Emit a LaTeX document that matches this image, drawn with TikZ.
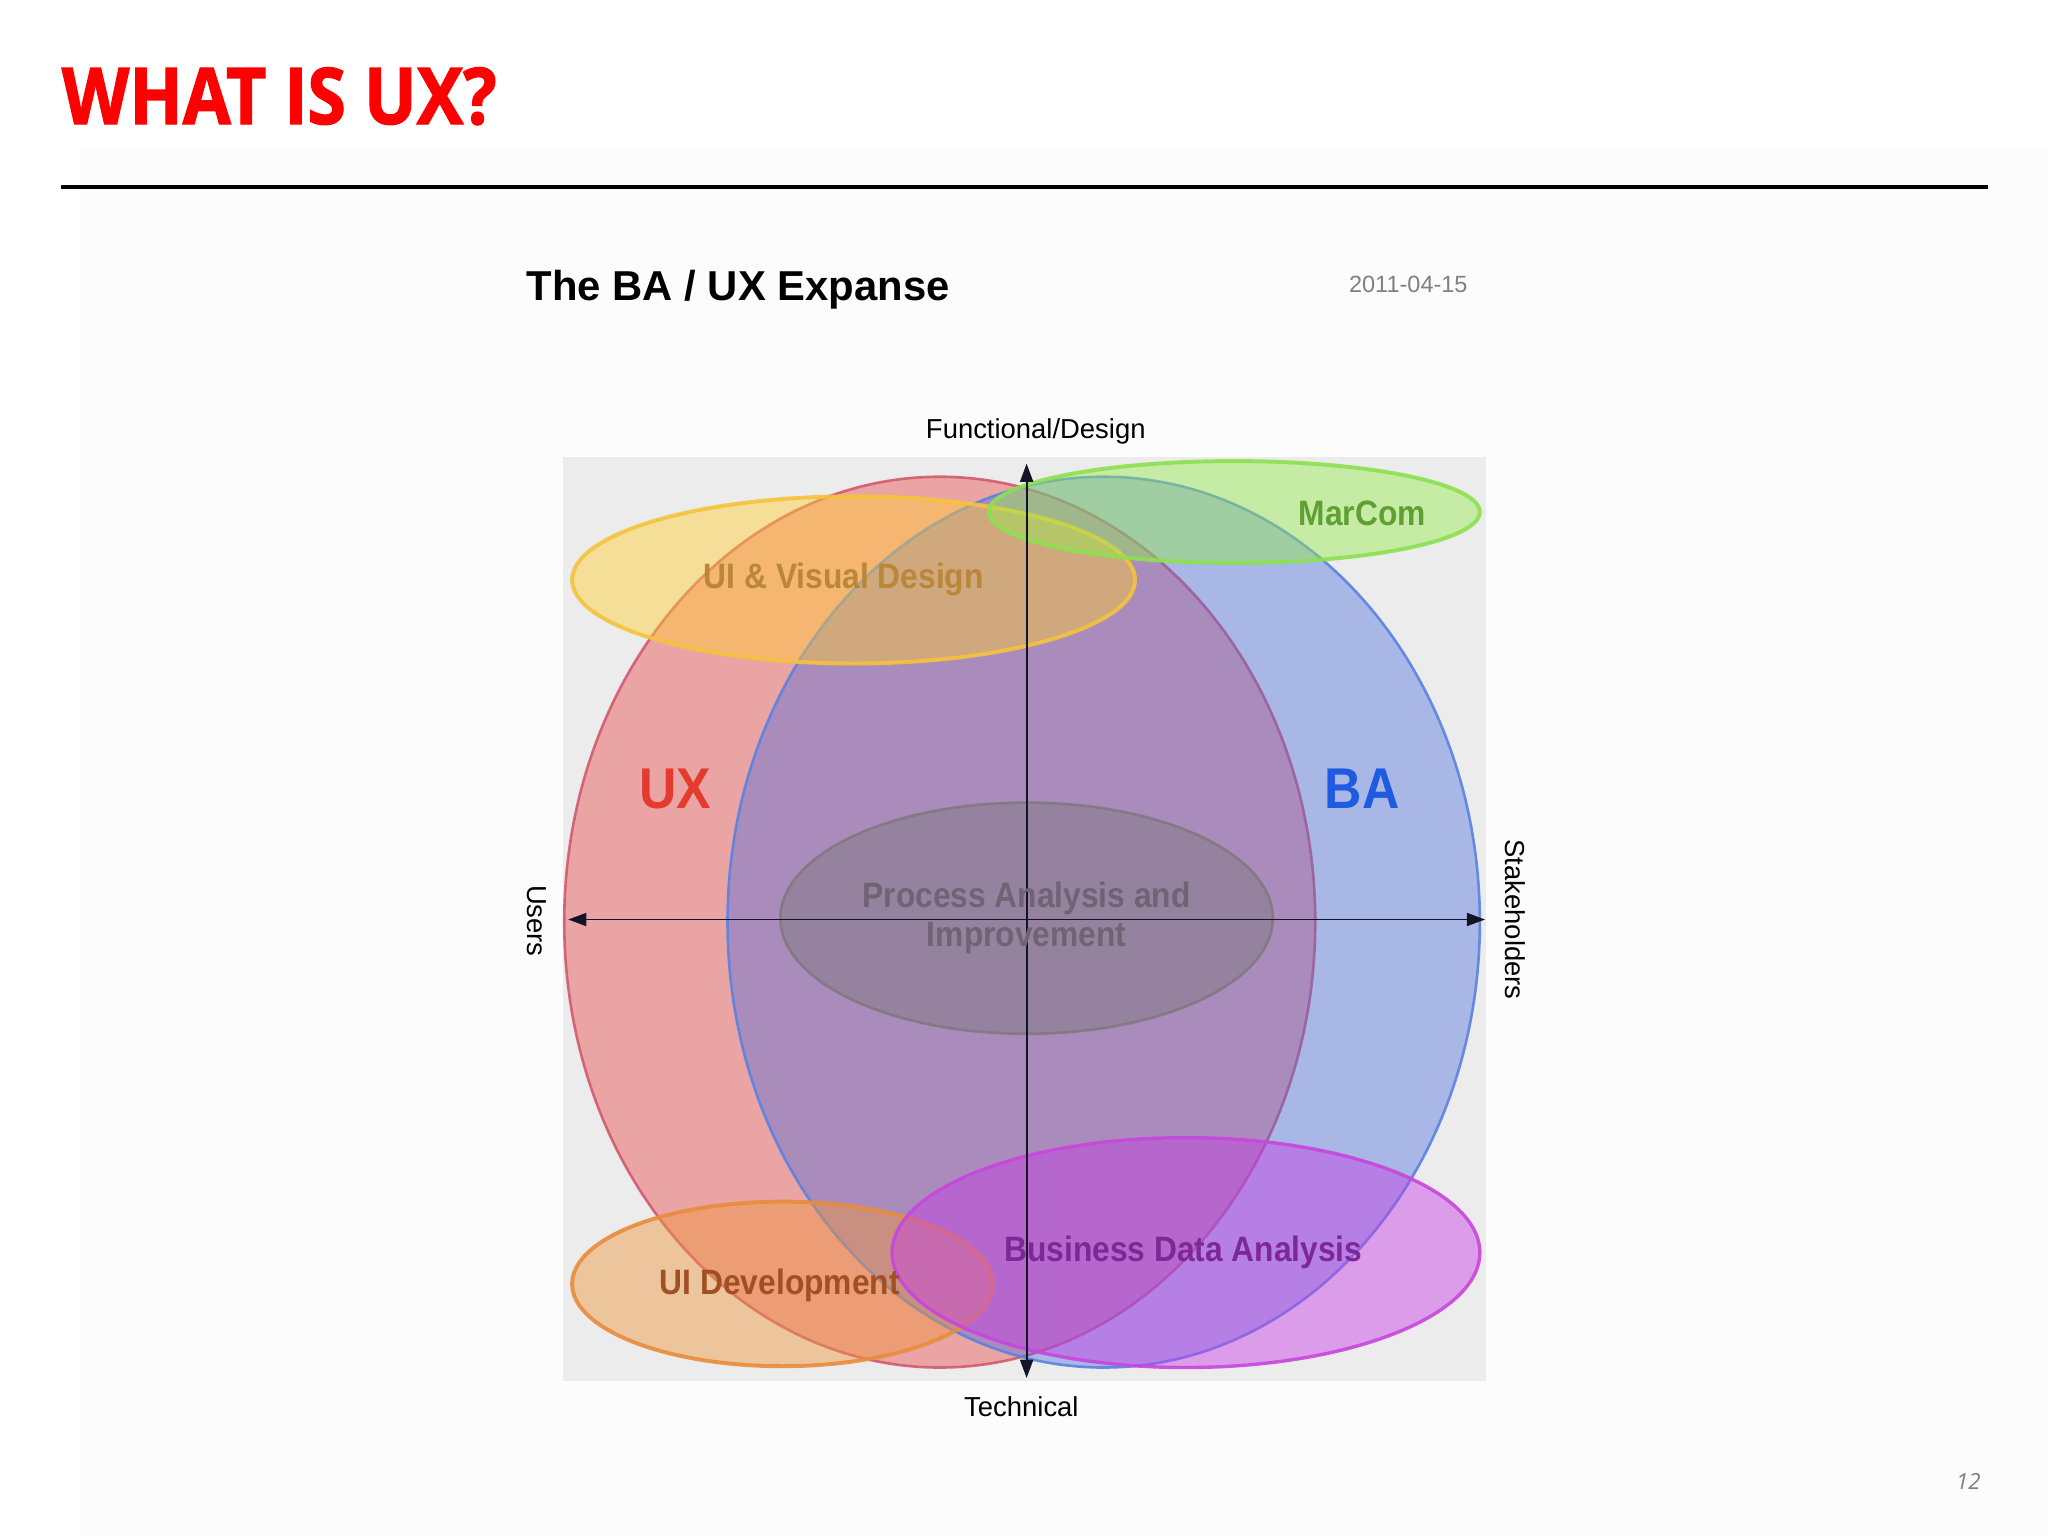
\documentclass[tikz,border=0pt]{standalone}
\usepackage{fontspec}
\setmainfont{Liberation Sans}
\newfontfamily\titlefont[FakeStretch=0.89,BoldFeatures={FakeBold=1.6}]{Open Sans}
\newfontfamily\pagefont{Open Sans}
\newfontfamily\condfont[FakeStretch=0.9]{Liberation Sans}
\usetikzlibrary{shapes.geometric,arrows.meta}
\definecolor{titlered}{RGB}{255,0,0}
\definecolor{pagebg}{RGB}{252,252,252}
\definecolor{boxgray}{RGB}{236,236,236}
\definecolor{uxfill}{RGB}{234,78,78}
\definecolor{uxline}{RGB}{210,90,110}
\definecolor{bafill}{RGB}{70,105,225}
\definecolor{baline}{RGB}{90,130,225}
\definecolor{procfill}{RGB}{125,120,125}
\definecolor{procline}{RGB}{130,120,130}
\definecolor{uivfill}{RGB}{255,205,50}
\definecolor{uivline}{RGB}{245,195,60}
\definecolor{mcfill}{RGB}{150,235,80}
\definecolor{mcline}{RGB}{140,225,80}
\definecolor{uidfill}{RGB}{240,150,60}
\definecolor{uidline}{RGB}{232,140,60}
\definecolor{bdafill}{RGB}{200,60,230}
\definecolor{bdaline}{RGB}{200,70,220}
\definecolor{uxtext}{RGB}{227,59,46}
\definecolor{batext}{RGB}{31,91,224}
\definecolor{mctext}{RGB}{95,160,50}
\definecolor{uivtext}{RGB}{185,135,55}
\definecolor{uidtext}{RGB}{160,80,35}
\definecolor{bdatext}{RGB}{125,40,150}
\definecolor{proctext}{RGB}{110,100,115}
\definecolor{axiscol}{RGB}{20,20,40}
\begin{document}
\begin{tikzpicture}[x=0.5pt,y=-0.5pt,
  blob/.style={ellipse,inner sep=0pt,fill opacity=0.45,draw opacity=0.9},
  blobtext/.style={font=\condfont\bfseries\fontsize{13.5}{15}\selectfont,inner sep=0pt},
  axislabel/.style={font=\fontsize{10.5}{12}\selectfont,text=black,inner sep=0pt},
  bigtag/.style={font=\condfont\bfseries\fontsize{22}{24}\selectfont,inner sep=0pt},
  axisline/.style={draw=axiscol,line width=0.75pt,{Triangle[length=7pt,width=5pt]}-{Triangle[length=7pt,width=5pt]}}
]
\useasboundingbox (0,0) rectangle (1568,1176);
\fill[white] (0,0) rectangle (1568,1176);
\fill[pagebg] (61,112) rectangle (1568,1176);
% header
\node[anchor=base west,inner sep=0pt,text=titlered,font=\titlefont\bfseries\fontsize{30}{32}\selectfont] (title) at (47,95) {WHAT IS UX?};
\draw[line width=1.5pt] (47,143) -- (1522,143);
\node[anchor=base west,inner sep=0pt,font=\bfseries\fontsize{16}{18}\selectfont] (sub) at (403,230) {The BA / UX Expanse};
\node[anchor=base east,inner sep=0pt,text=gray,font=\fontsize{9}{11}\selectfont] (date) at (1124,224) {2011-04-15};
% diagram box
\fill[boxgray] (431,350) rectangle (1138,1057);
% ellipses
\node[blob,fill=uxfill,draw=uxline,line width=1pt,minimum width=287.5pt,minimum height=341pt] (ux) at (719.5,706) {};
\node[blob,fill=bafill,fill opacity=0.4,draw=baline,line width=1pt,minimum width=288pt,minimum height=341pt] (ba) at (845,706) {};
\node[blob,fill=procfill,draw=procline,line width=1pt,minimum width=188.5pt,minimum height=88.5pt] (proc) at (786,703) {};
\node[blob,fill=uivfill,draw=uivline,line width=1.5pt,minimum width=215.5pt,minimum height=64pt] (uiv) at (653.5,444) {};
\node[blob,fill=mcfill,draw=mcline,line width=1.5pt,minimum width=188pt,minimum height=39pt] (mc) at (945,392) {};
\node[blob,fill=uidfill,draw=uidline,line width=1.5pt,minimum width=161pt,minimum height=63pt] (uid) at (599,983) {};
\node[blob,fill=bdafill,draw=bdaline,line width=1.3pt,minimum width=225pt,minimum height=88pt] (bda) at (908,959) {};
% axes
\coordinate (ftop) at (786,355);
\coordinate (tbot) at (786,1055);
\coordinate (uleft) at (435,704);
\coordinate (sright) at (1137,704);
\draw[axisline] (tbot) -- (ftop);
\draw[axisline] (uleft) -- (sright);
\node[axislabel] (fd) at (793,330) {Functional/Design};
\node[axislabel] (tech) at (782,1077) {Technical};
\node[axislabel,rotate=-90] (users) at (411,705) {Users};
\node[axislabel,rotate=-90] (stake) at (1160,704) {Stakeholders};
% labels
\node[bigtag,text=uxtext] (uxl) at (517,604) {UX};
\node[bigtag,text=batext] (bal) at (1043,604) {BA};
\node[blobtext,text=uivtext] (uivl) at (646,444) {UI \& Visual Design};
\node[blobtext,text=mctext] (mcl) at (1043,393) {MarCom};
\node[blobtext,text=proctext,align=center] (procl) at (786,703) {Process Analysis and\\Improvement};
\node[blobtext,text=uidtext] (uidl) at (597,984) {UI Development};
\node[blobtext,text=bdatext] (bdal) at (906,959) {Business Data Analysis};
% page number
\node[inner sep=0pt,text=gray,font=\pagefont\itshape\fontsize{8.5}{10}\selectfont] (pg) at (1507,1134) {12};
\end{tikzpicture}
\end{document}
